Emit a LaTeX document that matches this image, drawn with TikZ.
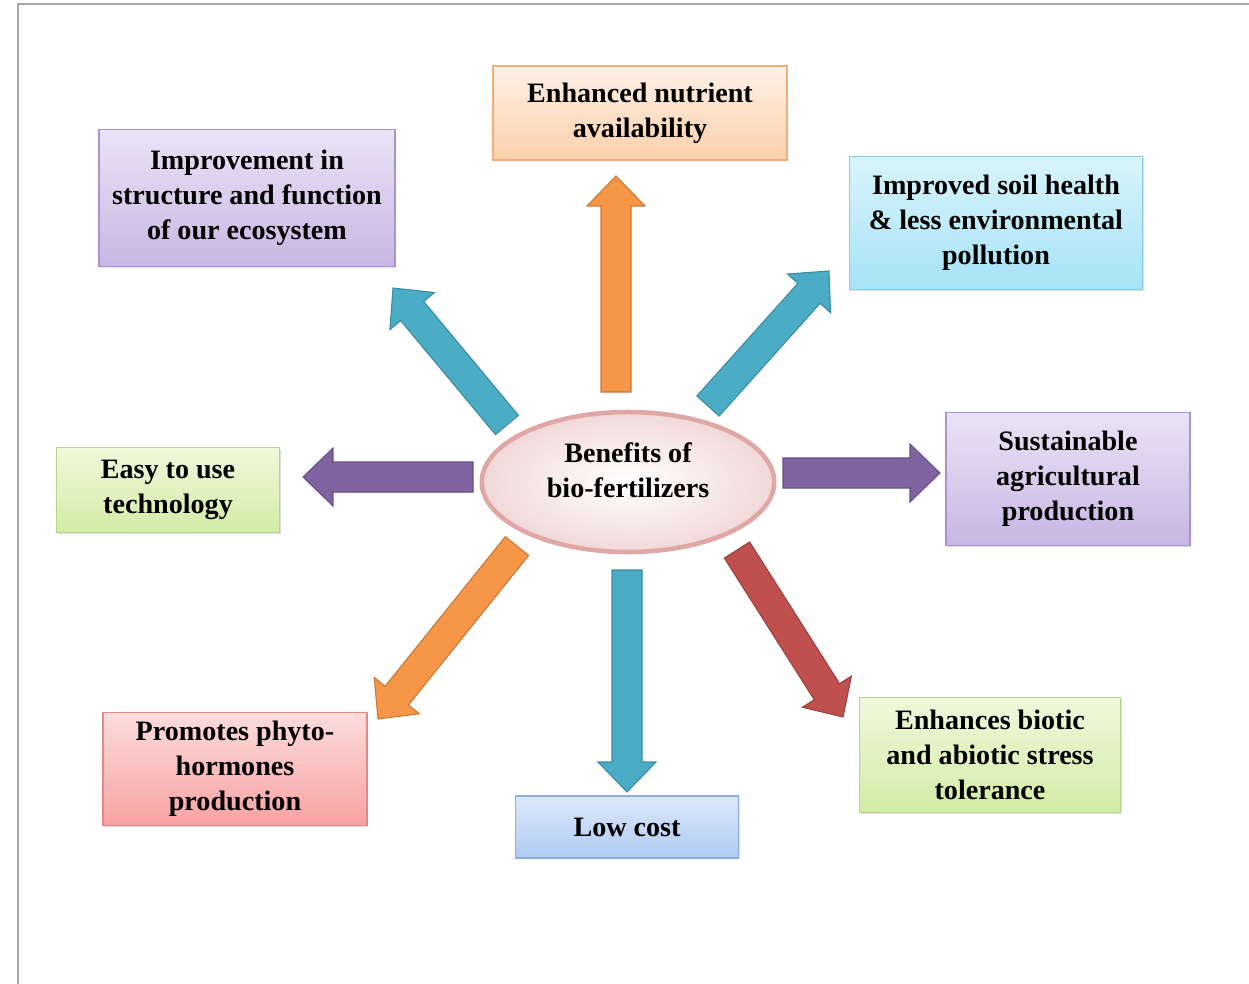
\documentclass[tikz,border=0pt]{standalone}
\usepackage{fontspec}
\setmainfont{Liberation Serif}
\usetikzlibrary{calc,shadows,shapes.geometric}

\definecolor{arrOrange}{HTML}{F79646}
\definecolor{arrTeal}{HTML}{4BACC6}
\definecolor{arrPurple}{HTML}{8064A2}
\definecolor{arrRed}{HTML}{C0504D}
\definecolor{peachTop}{HTML}{FEF1E6}
\definecolor{peachBot}{HTML}{FBD0AC}
\definecolor{peachLine}{HTML}{F2AE78}
\definecolor{lilacTop}{HTML}{EAE3F6}
\definecolor{lilacBot}{HTML}{C8B6E2}
\definecolor{lilacLine}{HTML}{A993CF}
\definecolor{skyTop}{HTML}{D8F4FB}
\definecolor{skyBot}{HTML}{A6E3F5}
\definecolor{skyLine}{HTML}{88CCE2}
\definecolor{limeTop}{HTML}{F0F8DC}
\definecolor{limeBot}{HTML}{D2ECA6}
\definecolor{limeLine}{HTML}{B7D68A}
\definecolor{pinkTop}{HTML}{FBDCDC}
\definecolor{pinkBot}{HTML}{F8A2A2}
\definecolor{pinkLine}{HTML}{DE8A8A}
\definecolor{blueTop}{HTML}{DCE8FA}
\definecolor{blueBot}{HTML}{AFCBF2}
\definecolor{blueLine}{HTML}{8DB0E2}

\tikzset{
	box/.style={rectangle,draw,line width=0.8pt,align=center,
		font=\fontsize{16}{20}\selectfont\bfseries,
		drop shadow={opacity=0.25,shadow xshift=0.6pt,shadow yshift=-0.8pt}},
	peachbox/.style={box,draw=peachLine,top color=peachTop,bottom color=peachBot},
	lilacbox/.style={box,draw=lilacLine,top color=lilacTop,bottom color=lilacBot},
	skybox/.style={box,draw=skyLine,top color=skyTop,bottom color=skyBot},
	limebox/.style={box,draw=limeLine,top color=limeTop,bottom color=limeBot},
	pinkbox/.style={box,draw=pinkLine,top color=pinkTop,bottom color=pinkBot},
	bluebox/.style={box,draw=blueLine,top color=blueTop,bottom color=blueBot},
	barrow/.style={line width=0.6pt,fill=#1,draw=#1!80!black}
}

\newcommand{\blockarrow}[3]{%
	\filldraw[barrow=#1] ($(#2)!0.3cm!90:(#3)$)
		-- ($($(#3)!0.6cm!(#2)$)!0.3cm!90:(#3)$)
		-- ($($(#3)!0.6cm!(#2)$)!0.58cm!90:(#3)$)
		-- (#3)
		-- ($($(#3)!0.6cm!(#2)$)!0.58cm!-90:(#3)$)
		-- ($($(#3)!0.6cm!(#2)$)!0.3cm!-90:(#3)$)
		-- ($(#2)!0.3cm!-90:(#3)$) -- cycle;}

\begin{document}
\begin{tikzpicture}[x=0.02cm,y=-0.02cm]
	\useasboundingbox (0,0) rectangle (1249,984);
	\draw [line width=1.2pt,gray!70] (18,984) -- (18,4) -- (1249,4);

	\node [ellipse,draw=arrRed!50,line width=2.6pt,inner color=white,outer color=arrRed!22,
		minimum width=5.85cm,minimum height=2.8cm,align=center,
		font=\fontsize{16}{20}\selectfont\bfseries] (ben) at (628,482) {Benefits of\\bio-fertilizers\\[-6pt]};

	\node [peachbox,minimum width=5.88cm,minimum height=1.88cm] (nutr) at (640,113) {Enhanced nutrient\\availability};
	\node [lilacbox,minimum width=5.92cm,minimum height=2.74cm] (eco) at (247,198) {Improvement in\\structure and function\\of our ecosystem};
	\node [skybox,minimum width=5.86cm,minimum height=2.66cm] (soil) at (996,223) {Improved soil health\\\& less environmental\\pollution};
	\node [limebox,minimum width=4.46cm,minimum height=1.7cm] (easy) at (168,490) {Easy to use\\technology};
	\node [lilacbox,minimum width=4.88cm,minimum height=2.66cm] (sust) at (1068,479) {Sustainable\\agricultural\\production};
	\node [pinkbox,minimum width=5.28cm,minimum height=2.26cm] (phyto) at (235,769) {Promotes phyto-\\hormones\\production};
	\node [bluebox,minimum width=4.46cm,minimum height=1.24cm] (cost) at (627,827) {Low cost};
	\node [limebox,minimum width=5.22cm,minimum height=2.3cm] (stress) at (990,755) {Enhances biotic\\and abiotic stress\\tolerance};

	\coordinate (nutrA) at (616,392);
	\coordinate (nutrB) at (616,176);
	\coordinate (soilA) at (708,406);
	\coordinate (soilB) at (829,271);
	\coordinate (ecoA) at (507,425);
	\coordinate (ecoB) at (393,288);
	\coordinate (easyA) at (473,477);
	\coordinate (easyB) at (303,477);
	\coordinate (sustA) at (783,473);
	\coordinate (sustB) at (940,473);
	\coordinate (phytoA) at (517,546);
	\coordinate (phytoB) at (378,719);
	\coordinate (costA) at (627,570);
	\coordinate (costB) at (627,792);
	\coordinate (stressA) at (737,550);
	\coordinate (stressB) at (843,717);

	\blockarrow{arrOrange}{nutrA}{nutrB}
	\blockarrow{arrTeal}{soilA}{soilB}
	\blockarrow{arrTeal}{ecoA}{ecoB}
	\blockarrow{arrPurple}{easyA}{easyB}
	\blockarrow{arrPurple}{sustA}{sustB}
	\blockarrow{arrOrange}{phytoA}{phytoB}
	\blockarrow{arrTeal}{costA}{costB}
	\blockarrow{arrRed}{stressA}{stressB}
\end{tikzpicture}
\end{document}
